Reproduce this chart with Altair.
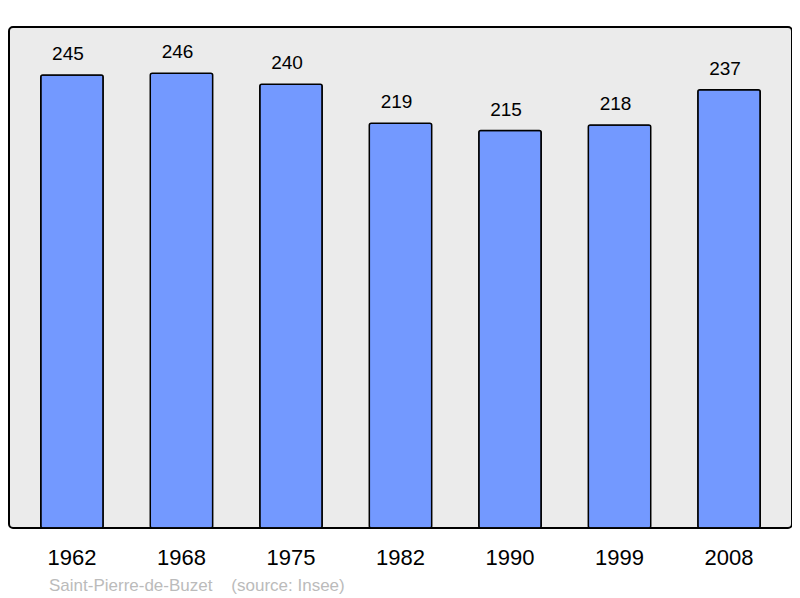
import altair as alt
import pandas as pd

years = ["1962", "1968", "1975", "1982", "1990", "1999", "2008"]
population = [245, 246, 240, 219, 215, 218, 237]

df = pd.DataFrame({"year": years, "pop": population})

x = alt.X("year:N", sort=years, title=None,
          scale=alt.Scale(paddingInner=0.43, paddingOuter=0.29),
          axis=alt.Axis(labelAngle=0, labelFontSize=22, labelFont="Liberation Sans",
                        labelColor="#000000", ticks=False, domain=False,
                        labelBaseline="alphabetic", labelPadding=36))
y = alt.Y("pop:Q", title=None, scale=alt.Scale(domain=[0, 271], nice=False, zero=True),
          axis=None)

bars = alt.Chart(df).mark_bar(color="#7399ff", stroke="#000000", strokeWidth=1.5,
                              cornerRadius=2).encode(x=x, y=y)
labels = alt.Chart(df).mark_text(baseline="alphabetic", dy=-15, dx=-4, fontSize=19,
                                 font="Liberation Sans", color="#000000").encode(
    x=x, y=y, text="pop:Q")

chart = alt.layer(bars, labels).properties(
    width=783, height=501,
    background="#ffffff",
    autosize=alt.AutoSizeParams(type="none"),
    padding={"left": 1, "top": 19, "right": 0, "bottom": 70},
    title=alt.TitleParams("Saint-Pierre-de-Buzet\u00a0\u00a0\u00a0\u00a0(source: Insee)",
                          orient="bottom", anchor="start", fontSize=17,
                          font="Liberation Sans", fontWeight="normal", color="#bbbbbb",
                          offset=10, dx=40),
).configure_view(
    fill="#ebebeb", stroke="#000000", strokeWidth=2, cornerRadius=4
)

chart.save("out.html", embed_options={"renderer": "svg", "actions": False})
